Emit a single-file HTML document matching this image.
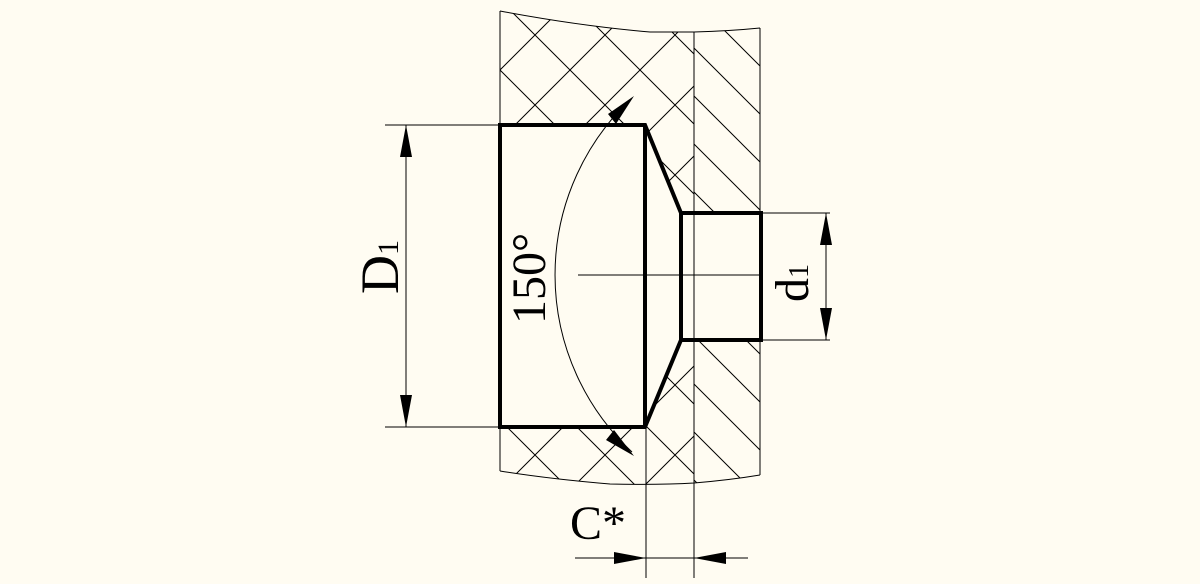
<!DOCTYPE html>
<html><head><style>
html,body{margin:0;padding:0;background:#fffcf2;}
svg{display:block}
text{font-family:"Liberation Serif",serif;fill:#000}
</style></head><body>
<svg width="1200" height="584" viewBox="0 0 1200 584" xmlns="http://www.w3.org/2000/svg">
<defs>
<pattern id="cross" patternUnits="userSpaceOnUse" width="70" height="70" x="500" y="0">
<path d="M0,0 L70,70 M0,70 L70,0" stroke="#000" stroke-width="1" fill="none"/>
</pattern>
<pattern id="single" patternUnits="userSpaceOnUse" width="48" height="48" x="694" y="0">
<path d="M-12,-12 L60,60 M-12,36 L12,60 M36,-12 L60,12" stroke="#000" stroke-width="1" fill="none"/>
</pattern>
<clipPath id="wall"><path d="M500,11 Q580,26 650,32 L694,32 Q730,31 760,28 L760,475 Q730,480 694,483 Q660,485 610,484 Q550,479 500,471 Z"/></clipPath>
</defs>
<rect width="1200" height="584" fill="#fffcf2"/>
<g clip-path="url(#wall)">
<rect x="500" y="0" width="194" height="584" fill="url(#cross)"/>
<rect x="694" y="0" width="70" height="584" fill="url(#single)"/>
</g>
<path d="M500,11 Q580,26 650,32 L694,32 Q730,31 760,28 M760,475 Q730,480 694,483 Q660,485 610,484 Q550,479 500,471 M500,11 V125 M500,427 V471 M760,28 V213 M760,340 V475" stroke="#000" stroke-width="1" fill="none"/>
<path d="M500,125 H645 L681,213 H761 V340 H681 L645,427 H500 Z" fill="#fffcf2"/>
<g stroke="#000" stroke-width="1" fill="none">
<line x1="694" y1="32" x2="694" y2="578"/>
<line x1="646" y1="427" x2="646" y2="578"/>
<line x1="385" y1="125" x2="500" y2="125"/>
<line x1="385" y1="427" x2="500" y2="427"/>
<line x1="406" y1="125" x2="406" y2="427"/>
<line x1="761" y1="213" x2="830" y2="213"/>
<line x1="761" y1="340" x2="830" y2="340"/>
<line x1="826" y1="213" x2="826" y2="340"/>
<line x1="578" y1="275" x2="760" y2="275"/>
<line x1="575" y1="558" x2="748" y2="558"/>
<path d="M632,98 A242,242 0 0 0 632,452"/>
</g>
<path d="M500,125 H645 L681,213 H761 V340 H681 L645,427 H500 Z M681,213 V340 M645,125 V427" stroke="#000" stroke-width="4" fill="none" stroke-linejoin="miter"/>
<g fill="#000">
<polygon points="406,125 400,157 412,157"/>
<polygon points="406,427 400,395 412,395"/>
<polygon points="826,213 820,245 832,245"/>
<polygon points="826,340 820,308 832,308"/>
<polygon points="646,558 614,552 614,564"/>
<polygon points="694,558 726,552 726,564"/>
<polygon points="634,96 608,114 616,124"/>
<polygon points="634,456 606,440 614,430"/>
</g>
<text transform="translate(398,294) rotate(-90)" font-size="54">D<tspan font-size="30">1</tspan></text>
<text transform="translate(545,324) rotate(-90)" font-size="48">150°</text>
<text transform="translate(808,302) rotate(-90)" font-size="48">d<tspan font-size="28">1</tspan></text>
<text x="570" y="539" font-size="48">C*</text>
</svg>
</body></html>
